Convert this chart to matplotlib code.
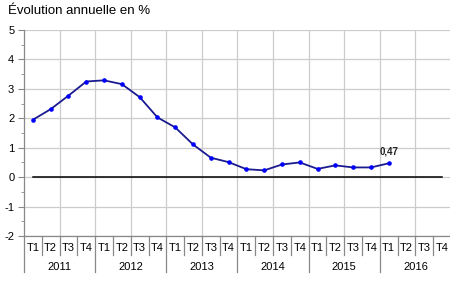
import matplotlib
matplotlib.use('Agg')
import matplotlib.pyplot as plt
import matplotlib.transforms as mtransforms
import numpy as np

plt.rcParams['font.family'] = ['Liberation Sans', 'DejaVu Sans']
plt.rcParams['axes.unicode_minus'] = False

# Data: annual change in % by quarter
years = ['2011', '2012', '2013', '2014', '2015', '2016']
quarters = ['T1', 'T2', 'T3', 'T4']
values = [1.95, 2.31, 2.77, 3.25,
          3.29, 3.16, 2.72, 2.03,
          1.69, 1.11, 0.66, 0.51,
          0.27, 0.23, 0.43, 0.50,
          0.28, 0.40, 0.33, 0.33,
          0.47]
last_label = '0,47'

n_cat = len(years) * len(quarters)
x = np.arange(len(values))

fig = plt.figure(figsize=(4.5, 2.91), dpi=100)
ax = fig.add_axes([24 / 450, 55 / 291, 427 / 450, 206 / 291])

# Grid
ax.set_xlim(-0.5, n_cat - 0.5)
ax.set_ylim(-2, 5)
ax.set_yticks(range(-2, 6))
ax.set_yticks(np.arange(-1.5, 5, 1), minor=True)
ax.set_xticks(np.arange(1.5, n_cat - 0.5, 2))
ax.set_xticklabels([])
ax.grid(True, which='major', color='#cccccc', linewidth=0.9)
ax.tick_params(axis='x', length=0)
ax.tick_params(axis='y', which='major', length=4, color='#888888', labelsize=8, pad=3)
ax.tick_params(axis='y', which='minor', length=2, color='#888888')
for s in ['top', 'right']:
    ax.spines[s].set_visible(False)
for s in ['left', 'bottom']:
    ax.spines[s].set_color('#888888')
    ax.spines[s].set_linewidth(0.9)

# Zero line
ax.plot([0, n_cat - 1], [0, 0], color='black', linewidth=1.1, zorder=3)

# Series
ax.plot(x, values, color='#1a1a90', linewidth=1.3, zorder=4)
ax.plot(x, values, linestyle='none', marker='o', markersize=2.3, color='#0000ff', zorder=5)
ax.annotate(last_label, (x[-1], values[-1]), xytext=(0, 5), textcoords='offset points',
            ha='center', va='bottom', fontsize=7, fontweight='bold', color='#222222')

# Category axis (quarters and years)
trans = mtransforms.blended_transform_factory(ax.transData, ax.transAxes)
for i in range(n_cat + 1):
    xb = i - 0.5
    bottom = -0.175 if i % 4 == 0 else -0.092
    ax.plot([xb, xb], [0, bottom], transform=trans, color='#888888', linewidth=0.9, clip_on=False)
for i in range(n_cat):
    ax.text(i, -0.058, quarters[i % 4], transform=trans, ha='center', va='center', fontsize=8)
for j, yr in enumerate(years):
    ax.text(j * 4 + 1.5, -0.15, yr, transform=trans, ha='center', va='center', fontsize=8)

fig.text(8 / 450, 1 - 11 / 291, 'Évolution annuelle en %', ha='left', va='center', fontsize=9.5)

fig.savefig('out.png', dpi=100)
